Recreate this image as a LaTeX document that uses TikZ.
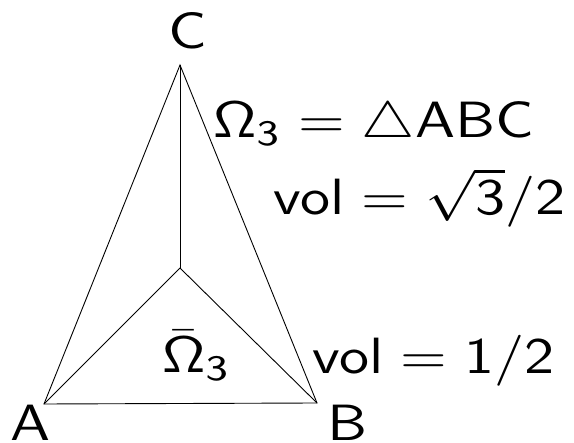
\documentclass[tikz,border=0pt]{standalone}
\begin{document}
\begin{tikzpicture}[x=1pt,y=-1pt,
  lbl/.style={inner sep=0pt,xscale=6.0,yscale=5.1,font=\sffamily},
  edge/.style={line width=0.9pt}]
\useasboundingbox (0,0) rectangle (574,443);
\coordinate (A) at (44,404);
\coordinate (B) at (317,403);
\coordinate (C) at (180,65);
\coordinate (O) at (180,268);
\draw[edge] (A) -- (B) -- (C) -- cycle;
\draw[edge] (O) -- (A);
\draw[edge] (O) -- (B);
\draw[edge] (O) -- (C);
\node[lbl,anchor=base] (lC) at (188,49) {C};
\node[lbl,anchor=base west] (lA) at (9,441) {A};
\node[lbl,anchor=base west] (lB) at (326,441) {B};
\node[lbl,anchor=base west] (t1) at (212,138) {$\mathsf{\Omega_3}=\triangle\mathsf{ABC}$};
\node[lbl,anchor=base west] (t2) at (272,215) {$\mathsf{vol}=\sqrt{\mathsf{3}}/\mathsf{2}$};
\node[lbl,anchor=base west] (t3) at (161,373) {$\bar{\mathsf{\Omega}}_{\mathsf{3}}$};
\node[lbl,anchor=base west] (t4) at (311,374) {$\mathsf{vol}=\mathsf{1}/\mathsf{2}$};
\end{tikzpicture}
\end{document}
